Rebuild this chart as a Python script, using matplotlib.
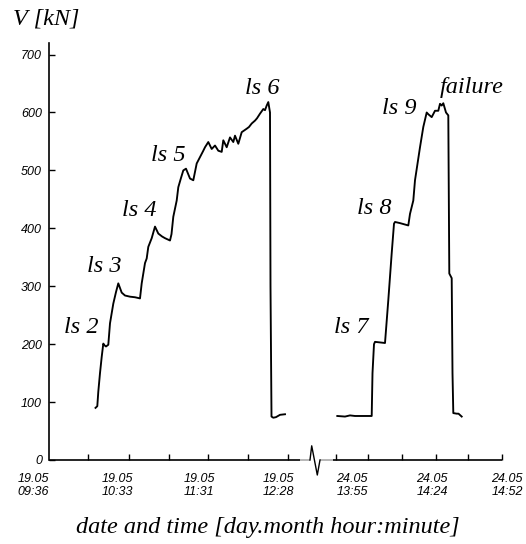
import matplotlib
matplotlib.use("Agg")
import matplotlib.pyplot as plt
import numpy as np

# horizontal position along the broken time axis (axis units), shear force V [kN]
left_pos = [46.5, 48.3, 49.3, 51.0, 52.7, 54.3, 55.5, 57.0, 59.3, 61.0, 64.3, 67.0,
            69.3, 72.7, 76.0, 81.0, 86.0, 91.0, 92.7, 96.0, 97.7, 99.3, 102.7, 106.0,
            109.3, 113.0, 116.0, 121.0, 122.5, 124.3, 127.7, 129.3, 132.0, 134.3, 137.0,
            141.0, 144.3, 147.7, 151.0, 154.0, 156.0, 159.3, 162.7, 166.0, 169.3, 172.7,
            174.3, 177.7, 181.0, 184.3, 186.0, 189.3, 192.7, 197.7, 200.0, 202.7, 206.0,
            208.0, 211.0, 214.3, 216.0, 217.7, 219.3, 221.0, 221.5, 222.5, 224.3, 227.0,
            231.0, 236.0]
left_v = [90, 93, 118, 150, 178, 201, 198, 196, 199, 236, 270, 290,
          305, 289, 284, 282, 281, 279, 305, 340, 348, 368, 383, 403,
          391, 386, 383, 379, 390, 420, 448, 471, 487, 500, 503,
          486, 483, 512, 523, 533, 540, 549, 537, 543, 534, 532,
          552, 540, 557, 549, 560, 546, 566, 572, 575, 581, 586,
          590, 598, 606, 604, 612, 618, 600, 300, 75, 73, 74,
          78, 79]

right_pos = [288.3, 296.0, 301.0, 306.0, 311.0, 316.0, 322.7, 323.5, 325.0, 326.0,
             331.0, 336.0, 339.3, 342.7, 345.0, 346.0, 351.0, 359.3, 361.0, 364.3,
             366.0, 371.0, 374.3, 377.7, 379.3, 382.7, 386.0, 389.3, 391.0, 392.7,
             394.3, 397.0, 399.3, 400.3, 402.7, 403.5, 404.3, 407.7, 409.5, 412.7]
right_v = [76, 75, 77, 76, 76, 76, 76, 150, 200, 204,
           203, 202, 276, 357, 408, 411, 409, 405, 425, 448,
           483, 540, 575, 600, 597, 592, 603, 603, 615, 612,
           616, 600, 595, 322, 314, 150, 81, 80, 80, 75]

# load-step annotations
step_labels = ["ls 2", "ls 3", "ls 4", "ls 5", "ls 6", "ls 7", "ls 8", "ls 9", "failure"]
step_pos = [32.5, 55.5, 90.5, 119.5, 213.5, 302.5, 325.5, 350.5, 422.5]
step_v = [228, 334, 431, 526, 641, 228, 434, 607, 643]

# x tick marks and date/time labels
tick_marks = [39, 80, 120, 159, 199, 239, 287, 319, 353, 387, 419, 453]
date_labels = ["19.05\n09:36", "19.05\n10:33", "19.05\n11:31", "19.05\n12:28",
               "24.05\n13:55", "24.05\n14:24", "24.05\n14:52"]
date_pos = [-16, 68, 150, 229, 303, 383, 458]
y_ticks = [0, 100, 200, 300, 400, 500, 600, 700]

serif = "Liberation Serif"
sans = "Liberation Sans"

fig = plt.figure(figsize=(5.26, 5.44), dpi=100)
ax = fig.add_axes([49 / 526, 84 / 544, 453 / 526, 417 / 544])

ax.plot(left_pos, left_v, color="black", lw=1.35)
ax.plot(right_pos, right_v, color="black", lw=1.35)

ax.set_xlim(0, 453)
ax.set_ylim(0, 720)

for s in ["top", "right", "bottom"]:
    ax.spines[s].set_visible(False)
ax.spines["left"].set_linewidth(1.2)

# broken x axis
kw = dict(transform=ax.get_xaxis_transform(), clip_on=False, solid_capstyle="butt")
ax.plot([0, 251], [0, 0], color="black", lw=1.2, **kw)
ax.plot([251, 261], [0, 0], color="#aaaaaa", lw=1.2, **kw)
ax.plot([271, 284], [0, 0], color="#aaaaaa", lw=1.2, **kw)
ax.plot([284, 453], [0, 0], color="black", lw=1.2, **kw)
ax.plot([261, 262.7, 268.3, 271], [0, 0.034, -0.036, 0], color="black", lw=1.0,
        transform=ax.get_xaxis_transform(), clip_on=False)

ax.set_xticks([])
ax.set_xticks(tick_marks, minor=True)
ax.tick_params(axis="x", which="minor", direction="in", length=4, width=1.0,
               labelbottom=False)
for lab, p in zip(date_labels, date_pos):
    ax.text(p, -0.03, lab, transform=ax.get_xaxis_transform(), ha="center",
            va="top", fontsize=9, style="italic", family=sans,
            linespacing=1.2, clip_on=False)

ax.set_yticks(y_ticks)
ax.tick_params(axis="y", direction="in", length=4, width=1.0, pad=5)
for t in ax.get_yticklabels():
    t.set_fontstyle("italic")
    t.set_fontfamily(sans)
    t.set_fontsize(9)

for lab, p, v in zip(step_labels, step_pos, step_v):
    ax.text(p, v, lab, ha="center", va="center", fontsize=17.5, style="italic",
            family=serif)

fig.text(13 / 526, 1 - 19 / 544, "V [kN]", ha="left", va="center", fontsize=17.5,
         style="italic", family=serif)
fig.text(268 / 526, 1 - 528 / 544, "date and time [day.month hour:minute]",
         ha="center", va="center", fontsize=17.5, style="italic", family=serif)

fig.savefig("out.png", dpi=100)
